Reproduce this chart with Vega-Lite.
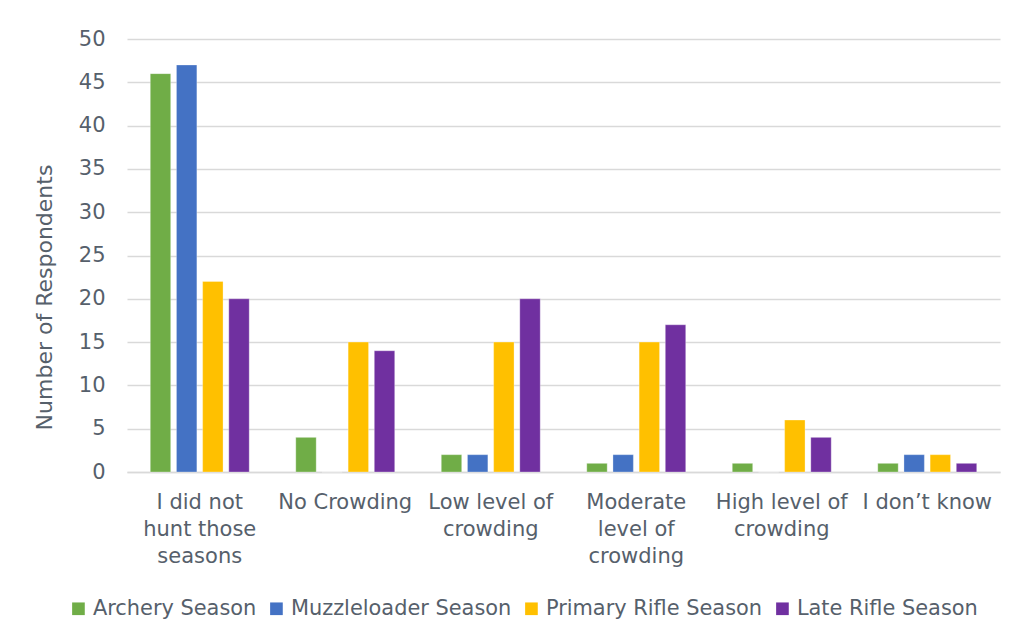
{
  "$schema": "https://vega.github.io/schema/vega-lite/v6.json",
  "width": 873,
  "height": 433,
  "autosize": {"type": "none"},
  "padding": {"left": 127, "top": 39, "right": 18, "bottom": 171},
  "background": "white",
  "data": {
    "values": [
      {"cat": "I did not hunt those seasons", "season": "Archery Season", "n": 46},
      {"cat": "I did not hunt those seasons", "season": "Muzzleloader Season", "n": 47},
      {"cat": "I did not hunt those seasons", "season": "Primary Rifle Season", "n": 22},
      {"cat": "I did not hunt those seasons", "season": "Late Rifle Season", "n": 20},
      {"cat": "No Crowding", "season": "Archery Season", "n": 4},
      {"cat": "No Crowding", "season": "Muzzleloader Season", "n": 0},
      {"cat": "No Crowding", "season": "Primary Rifle Season", "n": 15},
      {"cat": "No Crowding", "season": "Late Rifle Season", "n": 14},
      {"cat": "Low level of crowding", "season": "Archery Season", "n": 2},
      {"cat": "Low level of crowding", "season": "Muzzleloader Season", "n": 2},
      {"cat": "Low level of crowding", "season": "Primary Rifle Season", "n": 15},
      {"cat": "Low level of crowding", "season": "Late Rifle Season", "n": 20},
      {"cat": "Moderate level of crowding", "season": "Archery Season", "n": 1},
      {"cat": "Moderate level of crowding", "season": "Muzzleloader Season", "n": 2},
      {"cat": "Moderate level of crowding", "season": "Primary Rifle Season", "n": 15},
      {"cat": "Moderate level of crowding", "season": "Late Rifle Season", "n": 17},
      {"cat": "High level of crowding", "season": "Archery Season", "n": 1},
      {"cat": "High level of crowding", "season": "Muzzleloader Season", "n": 0},
      {"cat": "High level of crowding", "season": "Primary Rifle Season", "n": 6},
      {"cat": "High level of crowding", "season": "Late Rifle Season", "n": 4},
      {"cat": "I don’t know", "season": "Archery Season", "n": 1},
      {"cat": "I don’t know", "season": "Muzzleloader Season", "n": 2},
      {"cat": "I don’t know", "season": "Primary Rifle Season", "n": 2},
      {"cat": "I don’t know", "season": "Late Rifle Season", "n": 1}
    ]
  },
  "mark": {"type": "bar", "stroke": "white", "strokeWidth": 0.5, "strokeOpacity": 0.6},
  "encoding": {
    "x": {
      "field": "cat",
      "type": "nominal",
      "sort": null,
      "scale": {"paddingInner": 0.32, "paddingOuter": 0.16},
      "axis": {
        "title": null,
        "labelAngle": 0,
        "labelPadding": 19,
        "labelLineHeight": 27,
        "labelFontSize": 21,
        "labelLimit": 200,
        "ticks": false,
        "domainColor": "#D9D9D9",
        "domainWidth": 1.5,
        "labelExpr": "datum.label == 'I did not hunt those seasons' ? ['I did not', 'hunt those', 'seasons'] : datum.label == 'Low level of crowding' ? ['Low level of', 'crowding'] : datum.label == 'Moderate level of crowding' ? ['Moderate', 'level of', 'crowding'] : datum.label == 'High level of crowding' ? ['High level of', 'crowding'] : datum.label"
      }
    },
    "xOffset": {
      "field": "season",
      "type": "nominal",
      "sort": ["Archery Season", "Muzzleloader Season", "Primary Rifle Season", "Late Rifle Season"],
      "scale": {"paddingInner": 0.22}
    },
    "y": {
      "field": "n",
      "type": "quantitative",
      "scale": {"domain": [0, 50]},
      "axis": {
        "title": "Number of Respondents",
        "titleFontSize": 22,
        "titleFontWeight": "normal",
        "titlePadding": 22,
        "titleY": 258,
        "values": [0, 5, 10, 15, 20, 25, 30, 35, 40, 45, 50],
        "labelFontSize": 21,
        "labelPadding": 22,
        "ticks": false,
        "domain": false,
        "gridColor": "#D9D9D9",
        "gridWidth": 1.5
      }
    },
    "color": {
      "field": "season",
      "type": "nominal",
      "sort": ["Archery Season", "Muzzleloader Season", "Primary Rifle Season", "Late Rifle Season"],
      "scale": {
        "domain": ["Archery Season", "Muzzleloader Season", "Primary Rifle Season", "Late Rifle Season"],
        "range": ["#70AD47", "#4472C4", "#FFC000", "#7030A0"]
      },
      "legend": {
        "title": null,
        "orient": "none",
        "legendX": -59,
        "legendY": 559,
        "direction": "horizontal",
        "symbolType": "square",
        "symbolSize": 160,
        "symbolStrokeWidth": 0,
        "labelFontSize": 20.9,
        "labelOffset": 4,
        "columnPadding": 9,
        "labelLimit": 300
      }
    }
  },
  "config": {
    "font": "DejaVu Sans",
    "view": {"stroke": null},
    "axis": {"labelColor": "#56606B", "titleColor": "#56606B"},
    "legend": {"labelColor": "#56606B"}
  }
}
